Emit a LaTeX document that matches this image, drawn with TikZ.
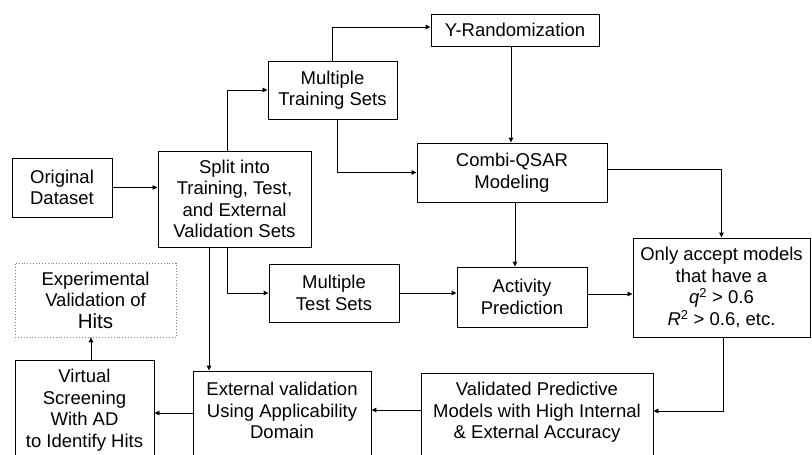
\documentclass[tikz,border=0pt]{standalone}
\usepackage{fontspec}
\setmainfont{Liberation Sans}
\usetikzlibrary{arrows.meta}
\begin{document}
\begin{tikzpicture}[x=1pt,y=-1pt,
  txt/.style={inner sep=0pt, align=center, font=\fontsize{18.5}{21.5}\selectfont},
  box/.style={txt, draw, line width=0.9pt},
  link/.style={line width=0.9pt, -{Triangle[length=5pt,width=4.5pt]}}]
\useasboundingbox (0,0) rectangle (812,455);
\clip (0,0) rectangle (812,455);

% process boxes
\node[box, minimum width=100pt, minimum height=59pt] (orig) at (62,187.5) {Original\\Dataset};
\node[box, minimum width=153pt, minimum height=96pt] (split) at (234.5,199) {Split into\\Training, Test,\\and External\\Validation Sets};
\node[box, minimum width=129pt, minimum height=58pt] (mtrain) at (332.5,90) {Multiple\\Training Sets};
\node[box, minimum width=168pt, minimum height=32pt] (yrand) at (515,30) {Y-Randomization};
\node[box, minimum width=190pt, minimum height=59pt] (combi) at (512,172.5) {Combi-QSAR\\Modeling};
\node[box, minimum width=130pt, minimum height=58pt] (mtest) at (334,293) {Multiple\\Test Sets};
\node[box, minimum width=130pt, minimum height=60pt] (act) at (522,297) {Activity\\Prediction};
\node[box, minimum width=177pt, minimum height=99pt] (only) at (721.5,287.5)
  {Only accept models\\that have a\\\textit{q}\textsuperscript{2} > 0.6\\\textit{R}\textsuperscript{2} > 0.6, etc.};
\node[box, draw=gray, dotted, line width=0.7pt, minimum width=161pt, minimum height=74pt] (expt) at (95.5,300)
  {Experimental\\Validation of\\{\fontsize{20.5}{23}\selectfont Hits}};

% bottom row (boxes run past the lower edge)
\node[box, minimum width=232pt, minimum height=98pt] (valid) at (537,422) {};
\node[box, minimum width=178pt, minimum height=102pt] (ext) at (282,422) {};
\node[box, minimum width=139pt, minimum height=100pt] (virt) at (84.5,410) {};
\node[txt] (validtxt) at (537,412.5) {Validated Predictive\\Models with High Internal\\\& External Accuracy};
\node[txt] (exttxt) at (282,410.5) {External validation\\Using Applicability\\Domain};
\node[txt] (virttxt) at (84.5,410) {Virtual\\Screening\\With AD\\to Identify Hits};

% connectors
\draw[link] (orig.east) -- (orig.east -| split.west);
\draw[link] ([xshift=-7.5pt]split.north) |- (mtrain.west);
\draw[link] (mtrain.north) |- ([yshift=3pt]yrand.west);
\draw[link] ([xshift=4.5pt]mtrain.south) |- (combi.west);
\draw[link] ([xshift=-4pt]yrand.south) -- ([xshift=-4pt]yrand.south |- combi.north);
\draw[link] ([yshift=3.5pt]combi.east) -| (only.north);
\draw[link] ([xshift=3pt]combi.south) -- ([xshift=3pt]combi.south |- act.north);
\draw[link] ([xshift=-7.5pt]split.south) |- (mtest.west);
\draw[link] (mtest.east) -- (mtest.east -| act.west);
\draw[link] ([yshift=3pt]act.east) -- ([yshift=3pt]act.east -| only.west);
\draw[link] ([xshift=1.5pt]only.south) |- ([yshift=11pt]valid.east);
\draw[link] ([yshift=12pt]valid.west) -- ([yshift=12pt]valid.west -| ext.east);
\draw[link] ([yshift=9pt]ext.west) -- ([yshift=9pt]ext.west -| virt.east);
\draw[link] ([xshift=-25.5pt]split.south) -- ([xshift=-25.5pt]split.south |- ext.north);
\draw[link] ([xshift=6.5pt]virt.north) -- ([xshift=6.5pt]virt.north |- expt.south);
\end{tikzpicture}
\end{document}
